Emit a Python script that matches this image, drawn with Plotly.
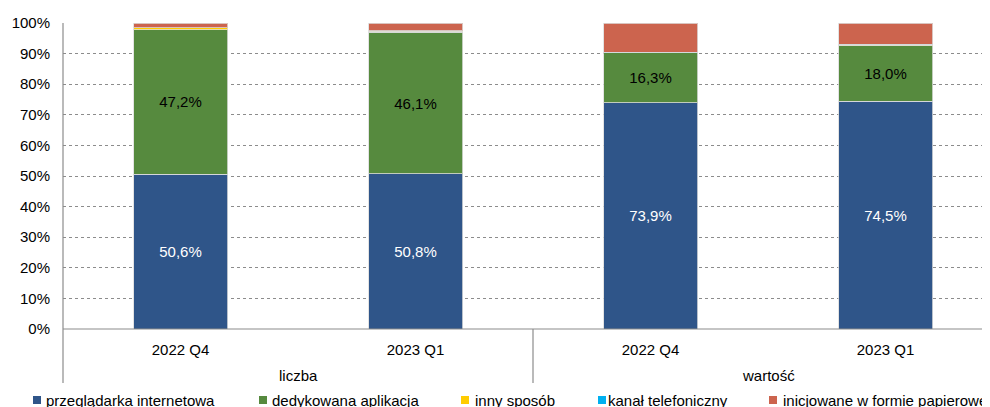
import plotly.graph_objects as go

# ---- data ----
categories = ["2022 Q4", "2023 Q1", "2022 Q4", "2023 Q1"]
groups = ["liczba", "liczba", "wartość", "wartość"]
series_names = ["przeglądarka internetowa", "dedykowana aplikacja", "inny sposób",
                "kanał telefoniczny", "inicjowane w formie papierowej"]
przegladarka = [50.6, 50.8, 73.9, 74.5]
aplikacja = [47.2, 46.1, 16.3, 18.0]
inny = [0.6, 0.4, 0.1, 0.3]
telefon = [0.0, 0.1, 0.1, 0.3]
papier = [1.6, 2.6, 9.6, 6.9]
y_ticks = list(range(0, 101, 10))
y_tick_labels = [f"{v}%" for v in y_ticks]

colors = ["#2F5589", "#568A3E", "#FFCC00", "#00B0F0", "#CC644E"]
label_colors = ["white", "black", None, None, None]
series = [przegladarka, aplikacja, inny, telefon, papier]

FONT = "Liberation Sans, Arial, sans-serif"
FS = 15

# page body has an 8px default margin; work in screen pixels and shift
OFF = 8
W, H = 990, 407
L = 63 - OFF          # plot left edge (screen x=63)
T = 23 - OFF          # plot top (screen y=23)
BOTTOM = 329 - OFF    # plot bottom (screen y=329)
B = H - BOTTOM
plot_w = W - L
plot_h = BOTTOM - T
cat_px = 235  # pixel width of one category slot

def px_x(px):
    return (px - OFF - L) / plot_w

def px_y(py):
    return (BOTTOM - (py - OFF)) / plot_h

x_idx = list(range(len(categories)))

fig = go.Figure()
for name, vals, col, lc in zip(series_names, series, colors, label_colors):
    fig.add_trace(go.Bar(
        x=x_idx, y=vals, name=name, width=0.4,
        marker=dict(color=col, line=dict(color="rgba(220,220,220,0.8)", width=1)),
        text=[f"{v:.1f}%".replace(".", ",") for v in vals] if lc else None,
        textposition="inside" if lc else "none",
        insidetextanchor="middle",
        textfont=dict(color=lc if lc else "black", size=FS, family=FONT),
        showlegend=False,
        hoverinfo="skip",
    ))

shapes = []
annotations = []

# axes lines
shapes.append(dict(type="line", xref="paper", yref="paper", x0=0, x1=1, y0=0, y1=0,
                   line=dict(color="#8C8C8C", width=1.2)))
shapes.append(dict(type="line", xref="paper", yref="paper", x0=0, x1=0, y0=px_y(383), y1=1,
                   line=dict(color="#8C8C8C", width=1.2)))
# group divider
shapes.append(dict(type="line", xref="x", yref="paper", x0=1.5, x1=1.5, y0=px_y(383), y1=0,
                   line=dict(color="#8C8C8C", width=1.2)))

# group labels
for g in dict.fromkeys(groups):
    idx = [i for i, gg in enumerate(groups) if gg == g]
    annotations.append(dict(x=sum(idx) / len(idx), xref="x", y=px_y(376), yref="paper",
                            text=g, showarrow=False, xanchor="center", yanchor="middle",
                            font=dict(size=FS, family=FONT, color="black")))

# manual legend
legend_sq = [33, 259, 461, 598, 769]
legend_tx = [44, 270, 473, 606, 781]
for name, col, sx, tx in zip(series_names, colors, legend_sq, legend_tx):
    shapes.append(dict(type="rect", xref="paper", yref="paper",
                       x0=px_x(sx), x1=px_x(sx + 8), y0=px_y(404), y1=px_y(396),
                       fillcolor=col, line=dict(width=0)))
    annotations.append(dict(x=px_x(tx), xref="paper", y=px_y(400), yref="paper",
                            text=name, showarrow=False, xanchor="left", yanchor="middle",
                            font=dict(size=FS, family=FONT, color="black")))

fig.update_layout(
    width=W, height=H,
    margin=dict(l=L, r=0, t=T, b=B, pad=0, autoexpand=False),
    barmode="stack",
    plot_bgcolor="white", paper_bgcolor="white",
    font=dict(family=FONT, size=FS, color="black"),
    shapes=shapes, annotations=annotations,
    showlegend=False,
    uniformtext=dict(mode=False),
)
fig.update_xaxes(
    range=[-0.5, -0.5 + plot_w / cat_px],
    tickvals=x_idx, ticktext=categories,
    showgrid=False, zeroline=False, showline=False, ticks="",
    ticklabelstandoff=10, automargin=False,
    tickfont=dict(size=FS, family=FONT, color="black"),
)
fig.update_yaxes(
    range=[0, 100], tickvals=y_ticks, ticktext=y_tick_labels,
    showgrid=True, gridcolor="#8C8C8C", griddash="dot", gridwidth=1,
    zeroline=False, showline=False, ticks="",
    ticklabelstandoff=12, automargin=False,
    tickfont=dict(size=FS, family=FONT, color="black"),
)

fig.write_html("out.html")
